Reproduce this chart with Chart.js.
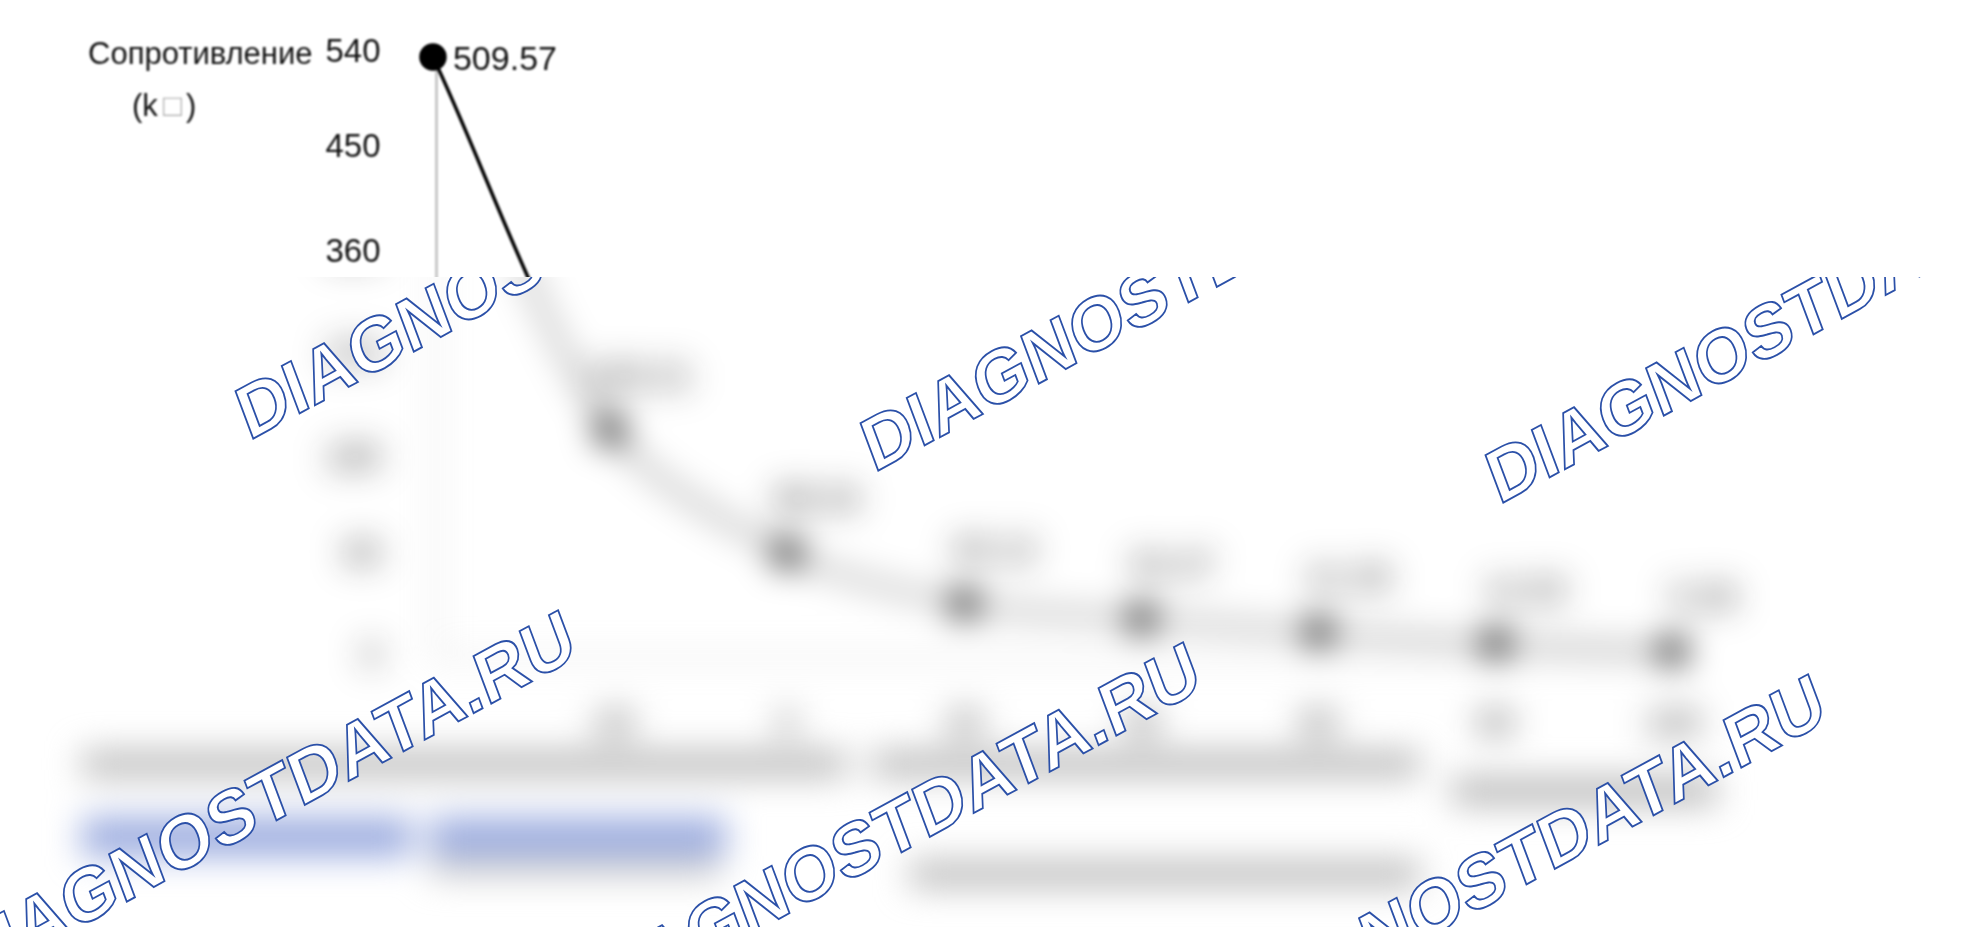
<!DOCTYPE html>
<html>
<head>
<meta charset="utf-8">
<style>
    html, body { margin: 0; background: #fff; overflow: hidden; }
    canvas { display: block; }
</style>
<script src="https://cdn.jsdelivr.net/npm/chart.js@4"></script>
</head>
<body>
<canvas id="chart" width="1980" height="927"></canvas>
<script>
// values under the blur are estimates, only 509.57 can be read
const temperatures = [-40, -20, 0, 20, 40, 60, 80, 100];
const resistance = [509.57, 193.21, 88.34, 45.12, 32.47, 21.35, 11.62, 5.28];
const yTickLabels = ['540', '450', '360', '270', '180', '90', '0'];
// the source labels do not sit on their true values, so these are where they land on the axis
const yTickAt = [513, 432.5, 343, 256, 168, 87, 0];
const watermark = 'DIAGNOSTDATA.RU';
const yTitle = 'Сопротивление';

const FONT = '"Liberation Sans", Arial, sans-serif';
const BLUR_TOP = 277;

// stand-ins for the caption lines, which cannot be read in the picture
const captionBars = [
    ['#b4b4b4', 82, 752, 765, 24],
    ['#b4b4b4', 872, 752, 548, 24],
    ['#b4b4b4', 1452, 778, 265, 26],
    ['#98a9de', 82, 818, 330, 38],
    ['#98a9de', 430, 818, 296, 38],
    ['#c4c4c4', 430, 860, 290, 16],
    ['#b4b4b4', 910, 862, 510, 24]
];

const pictureEffects = {
    id: 'pictureEffects',
    afterDraw(chart) {
        const ctx = chart.ctx;
        const meta = chart.getDatasetMeta(0);

        // value labels
        ctx.save();
        ctx.fillStyle = '#111';
        ctx.font = '34px ' + FONT;
        ctx.textBaseline = 'middle';
        ctx.textAlign = 'left';
        ctx.fillText(resistance[0].toFixed(2), meta.data[0].x + 20, meta.data[0].y + 4);
        ctx.textAlign = 'center';
        for (let i = 1; i < resistance.length; i++) {
            ctx.fillText(resistance[i].toFixed(2), meta.data[i].x + 30, meta.data[i].y - 52);
        }

        // axis title
        ctx.textAlign = 'left';
        ctx.font = '31px ' + FONT;
        ctx.fillText(yTitle, 88, 55);
        ctx.fillText('(k', 132, 107);
        ctx.fillStyle = '#aaa';
        ctx.fillText('□', 163, 107);
        ctx.fillStyle = '#111';
        ctx.fillText(')', 186, 107);

        captionBars.forEach(b => {
            ctx.fillStyle = b[0];
            ctx.fillRect(b[1], b[2], b[3], b[4]);
        });
        ctx.restore();

        // soft upscaled look on top, heavy blur below
        const w = chart.width, h = chart.height;
        const copy = document.createElement('canvas');
        copy.width = w;
        copy.height = h;
        copy.getContext('2d').drawImage(chart.canvas, 0, 0);

        ctx.save();
        ctx.fillStyle = '#fff';
        ctx.fillRect(0, 0, w, h);
        ctx.beginPath();
        ctx.rect(0, 0, w, BLUR_TOP);
        ctx.clip();
        ctx.filter = 'blur(0.9px)';
        ctx.drawImage(copy, 0, 0);
        ctx.restore();

        ctx.save();
        ctx.beginPath();
        ctx.rect(0, BLUR_TOP, w, h - BLUR_TOP);
        ctx.clip();
        ctx.filter = 'blur(17px)';
        ctx.drawImage(copy, 0, 0);
        ctx.filter = 'none';

        // watermark rows
        ctx.font = 'bold 73px ' + FONT;
        ctx.textBaseline = 'alphabetic';
        ctx.textAlign = 'left';
        ctx.lineWidth = 1.8;
        ctx.strokeStyle = '#2b50a8';
        ctx.fillStyle = '#fff';
        [[249, 441], [-38, 991]].forEach(start => {
            for (let n = 0; n < 3; n++) {
                ctx.save();
                ctx.translate(start[0] + n * 625, start[1] + n * 32);
                ctx.rotate(-28.5 * Math.PI / 180);
                ctx.transform(1, 0, -0.14, 1, 0, 0);
                ctx.fillText(watermark, 0, 0);
                ctx.strokeText(watermark, 0, 0);
                ctx.restore();
            }
        });
        ctx.restore();
    }
};

new Chart(document.getElementById('chart').getContext('2d'), {
    type: 'line',
    data: {
        datasets: [{
            data: temperatures.map((t, i) => ({ x: t, y: resistance[i] })),
            borderColor: '#000',
            backgroundColor: '#000',
            borderWidth: 3.5,
            pointRadius: 12,
            tension: 0.3,
            clip: false
        }]
    },
    options: {
        responsive: false,
        animation: false,
        devicePixelRatio: 1,
        layout: { padding: { top: 57, right: 307 } },
        plugins: { legend: { display: false }, tooltip: { enabled: false } },
        scales: {
            x: {
                type: 'linear',
                min: -39.6,
                max: 100,
                afterFit: scale => { scale.height = 270; },
                grid: { display: false, drawTicks: false },
                border: { color: '#c8c8c8', width: 3 },
                ticks: {
                    stepSize: 20,
                    includeBounds: false,
                    padding: 48,
                    color: '#111',
                    font: { family: FONT, size: 33 }
                }
            },
            y: {
                min: 0,
                max: 509.57,
                afterFit: scale => {
                    scale.width = 436.5;
                    scale.paddingTop = 0;
                    scale.paddingBottom = 0;
                },
                afterBuildTicks: scale => {
                    scale.ticks = yTickAt.map(v => ({ value: v }));
                },
                grid: { display: false, drawTicks: false },
                border: { color: '#c8c8c8', width: 3 },
                ticks: {
                    autoSkip: false,
                    padding: 56,
                    color: '#111',
                    font: { family: FONT, size: 33 },
                    callback: (value, index) => yTickLabels[index]
                }
            }
        }
    },
    plugins: [pictureEffects]
});
</script>
</body>
</html>
